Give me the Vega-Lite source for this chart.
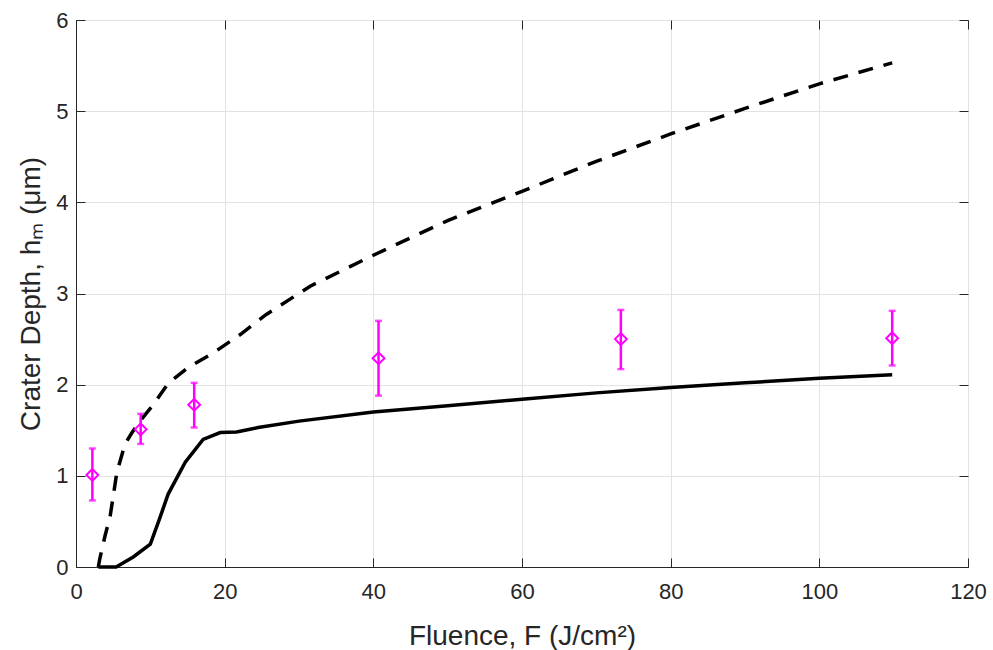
{
  "$schema": "https://vega.github.io/schema/vega-lite/v6.json",
  "width": 892,
  "height": 547,
  "autosize": "none",
  "padding": {"left": 76, "top": 20, "right": 25, "bottom": 83},
  "background": "white",
  "config": {
    "font": "Liberation Sans",
    "view": {"stroke": "#262626", "strokeWidth": 1},
    "axis": {
      "labelFont": "Liberation Sans",
      "titleFont": "Liberation Sans",
      "labelColor": "#262626",
      "titleColor": "#262626",
      "labelFontSize": 22,
      "titleFontSize": 28,
      "titleFontWeight": "normal",
      "domainColor": "#262626",
      "tickColor": "#262626",
      "tickSize": -9,
      "labelFlush": false,
      "labelOverlap": false,
      "gridColor": "#e3e3e3",
      "gridWidth": 1
    }
  },
  "datasets": {
    "meas": [
      {"F": 2.2, "h": 1.01, "lo": 0.73, "hi": 1.30},
      {"F": 8.7, "h": 1.51, "lo": 1.35, "hi": 1.68},
      {"F": 15.9, "h": 1.78, "lo": 1.53, "hi": 2.02},
      {"F": 40.7, "h": 2.29, "lo": 1.88, "hi": 2.70},
      {"F": 73.3, "h": 2.50, "lo": 2.17, "hi": 2.82},
      {"F": 109.8, "h": 2.51, "lo": 2.21, "hi": 2.81}
    ],
    "solid": [
      {"F": 3.0, "h": 0},
      {"F": 5.4, "h": 0},
      {"F": 7.7, "h": 0.11},
      {"F": 10.0, "h": 0.25},
      {"F": 11.2, "h": 0.52},
      {"F": 12.4, "h": 0.80},
      {"F": 14.7, "h": 1.15},
      {"F": 17.1, "h": 1.40},
      {"F": 19.4, "h": 1.475},
      {"F": 21.6, "h": 1.48},
      {"F": 23.4, "h": 1.51},
      {"F": 24.5, "h": 1.53},
      {"F": 30, "h": 1.60},
      {"F": 40, "h": 1.70},
      {"F": 50, "h": 1.77},
      {"F": 60, "h": 1.84},
      {"F": 70, "h": 1.91},
      {"F": 80, "h": 1.97},
      {"F": 90, "h": 2.02},
      {"F": 100, "h": 2.07},
      {"F": 109.8, "h": 2.11}
    ],
    "dashed": [
      {"F": 3.0, "h": 0},
      {"F": 3.2, "h": 0.09},
      {"F": 3.9, "h": 0.34},
      {"F": 4.6, "h": 0.56},
      {"F": 5.5, "h": 1.04},
      {"F": 6.6, "h": 1.35},
      {"F": 7.5, "h": 1.47},
      {"F": 8.6, "h": 1.60},
      {"F": 10.4, "h": 1.78},
      {"F": 12.2, "h": 1.99},
      {"F": 13.1, "h": 2.06},
      {"F": 15.1, "h": 2.19},
      {"F": 18.5, "h": 2.35},
      {"F": 22.1, "h": 2.55},
      {"F": 25.6, "h": 2.77},
      {"F": 31.5, "h": 3.08},
      {"F": 40, "h": 3.42},
      {"F": 50, "h": 3.80},
      {"F": 60, "h": 4.12},
      {"F": 70, "h": 4.45},
      {"F": 80, "h": 4.75},
      {"F": 90, "h": 5.03},
      {"F": 100, "h": 5.30},
      {"F": 109.8, "h": 5.53}
    ]
  },
  "resolve": {"axis": {"x": "independent", "y": "independent"}},
  "layer": [
    {
      "data": {"name": "dashed"},
      "mark": {"type": "line", "color": "black", "strokeWidth": 3.5, "strokeDash": [15, 11], "clip": true},
      "encoding": {
        "x": {
          "field": "F", "type": "quantitative",
          "scale": {"domain": [0, 120], "nice": false, "zero": false},
          "axis": {"values": [0, 20, 40, 60, 80, 100, 120], "title": "Fluence, F (J/cm²)", "labelPadding": 23, "titlePadding": 20, "grid": true}
        },
        "y": {
          "field": "h", "type": "quantitative",
          "scale": {"domain": [0, 6], "nice": false, "zero": false},
          "axis": {"values": [0, 1, 2, 3, 4, 5, 6], "title": "Crater Depth, hₘ (μm)", "labelPadding": 17, "titlePadding": 10, "grid": true}
        }
      }
    },
    {
      "data": {"name": "solid"},
      "mark": {"type": "line", "color": "black", "strokeWidth": 3.5},
      "encoding": {
        "x": {"field": "F", "type": "quantitative", "axis": {"orient": "top", "values": [0, 20, 40, 60, 80, 100, 120], "labels": false, "title": null, "grid": false, "domain": false}},
        "y": {"field": "h", "type": "quantitative", "axis": {"orient": "right", "values": [0, 1, 2, 3, 4, 5, 6], "labels": false, "title": null, "grid": false, "domain": false}}
      }
    },
    {
      "data": {"name": "meas"},
      "mark": {"type": "rule", "color": "#ff00ff", "strokeWidth": 2.5},
      "encoding": {
        "x": {"field": "F", "type": "quantitative", "axis": null},
        "y": {"field": "lo", "type": "quantitative", "axis": null},
        "y2": {"field": "hi"}
      }
    },
    {
      "data": {"name": "meas"},
      "mark": {"type": "tick", "color": "#ff00ff", "orient": "horizontal", "size": 7, "thickness": 2.5},
      "encoding": {
        "x": {"field": "F", "type": "quantitative", "axis": null},
        "y": {"field": "lo", "type": "quantitative", "axis": null}
      }
    },
    {
      "data": {"name": "meas"},
      "mark": {"type": "tick", "color": "#ff00ff", "orient": "horizontal", "size": 7, "thickness": 2.5},
      "encoding": {
        "x": {"field": "F", "type": "quantitative", "axis": null},
        "y": {"field": "hi", "type": "quantitative", "axis": null}
      }
    },
    {
      "data": {"name": "meas"},
      "mark": {"type": "point", "shape": "diamond", "filled": false, "color": "#ff00ff", "size": 140, "strokeWidth": 2, "opacity": 1},
      "encoding": {
        "x": {"field": "F", "type": "quantitative", "axis": null},
        "y": {"field": "h", "type": "quantitative", "axis": null}
      }
    }
  ]
}
